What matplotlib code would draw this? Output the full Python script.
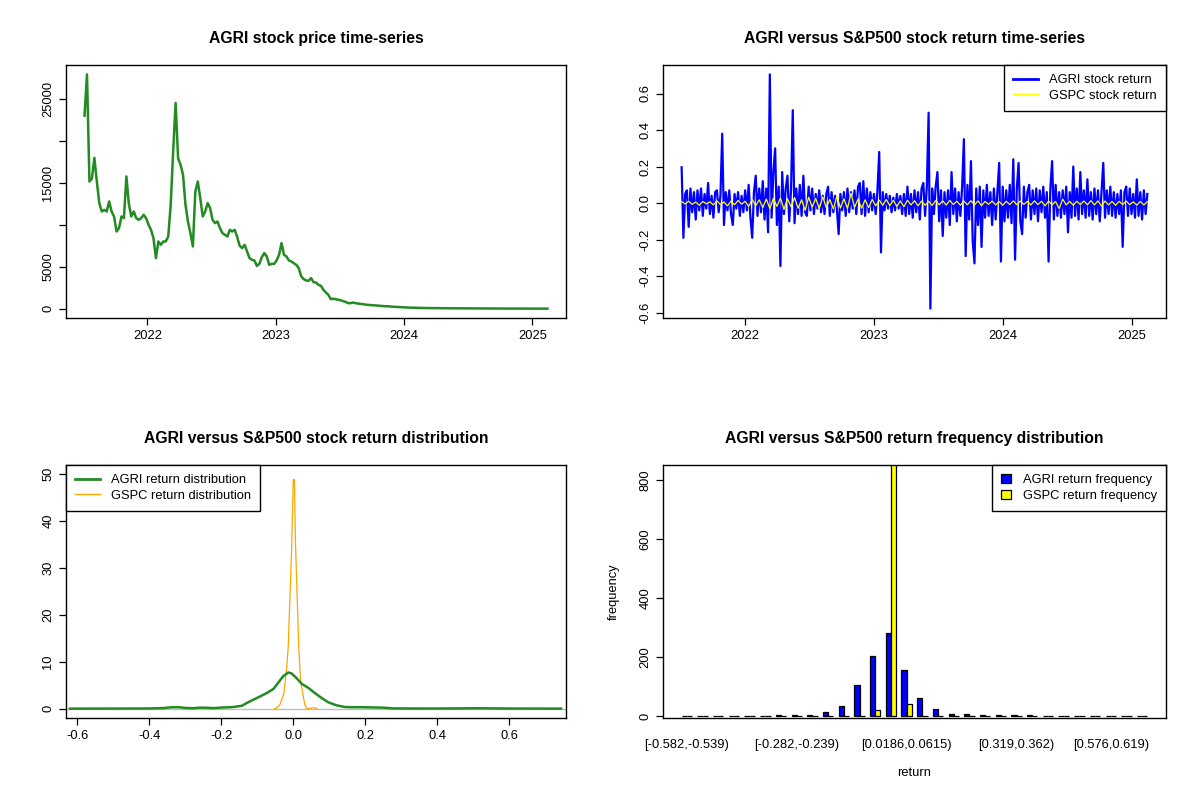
import numpy as np
import pandas as pd
import matplotlib
matplotlib.use('Agg')
import matplotlib.pyplot as plt
import matplotlib.dates as mdates
from matplotlib.patches import Patch
from matplotlib.lines import Line2D

plt.rcParams['font.family'] = ['Liberation Sans', 'DejaVu Sans']

# ---------------- data ----------------
series_start = '2021-07-06'
series_end = '2025-02-13'

# AGRI weekly closing price
agri_price = [
    22970, 27900, 15150, 15500, 17970, 15150, 12580, 11580, 11780, 11580,
    12770, 11580, 10990, 9200, 9600, 10990, 10790, 15750, 12500, 10990,
    11580, 10790, 10590, 10790, 11190, 10790, 10000, 9400, 8410, 6030,
    8010, 7620, 8010, 8010, 8610, 12380, 18760, 24500, 17900, 17140,
    15940, 12380, 10390, 9010, 7420, 13960, 15150, 13170, 10990, 11580,
    12580, 11980, 10590, 10190, 10390, 9600, 9010, 8810, 8600, 9400,
    9200, 9400, 8530, 7500, 7220, 7620, 6820, 6030, 5830, 5750,
    5110, 5350, 6150, 6630, 6230, 5230, 5350, 5350, 5750, 6430,
    7820, 6430, 6230, 5750, 5630, 5430, 5230, 4840, 3850, 3530,
    3370, 3330, 3650, 3170, 3130, 2850, 2740, 2260, 1950, 1670,
    1150, 1190, 1150, 1070, 1030, 910, 830, 670, 670, 750,
    670, 630, 590, 550,
    500, 470, 450, 430, 400, 380, 360,
    330, 300, 310, 280, 250, 240, 220, 200,
    180, 160, 150, 140, 130, 120, 110,
    100, 96, 92, 88, 85, 80, 78, 75, 72, 70,
    68, 65, 62, 60, 58, 55, 53, 50, 48, 46,
    45, 44, 42, 40, 39, 38, 37, 36, 35, 34,
    33, 32, 31, 30, 30, 29, 28, 28, 27, 26,
    26, 25, 25, 24, 24, 23, 23, 22, 22, 21,
    21, 20, 20,
]

agri_return = [
    0.196, -0.19, 0.05, 0.07, -0.13, 0.08, -0.05, 0.06, -0.09, 0.07,
    -0.04, 0.08, -0.07, 0.05, -0.03, 0.11, -0.06, 0.04, -0.08, 0.06,
    0.07, -0.05, 0.04, 0.38, -0.12, 0.06, -0.04, 0.07, -0.06, -0.12,
    0.05, -0.03, 0.06, -0.07, 0.04, -0.05, 0.07, -0.04, 0.10, -0.08,
    -0.19, 0.06, 0.15, -0.07, 0.08, -0.05, 0.12, -0.09, 0.08, -0.16,
    0.705, -0.08, 0.17, 0.30, -0.12, 0.09, -0.345, 0.17, -0.06, 0.08,
    0.15, -0.10, 0.07, 0.509, -0.11, 0.08, -0.06, 0.10, -0.07, 0.15,
    -0.05, -0.07, 0.09, -0.04, 0.08, -0.06, 0.05, -0.03, 0.07, -0.05,
    0.04, -0.06, 0.05, 0.09, -0.07, 0.06, -0.05, 0.04, -0.03, -0.17,
    0.05, -0.04, 0.06, -0.07, 0.08, -0.05, 0.06, -0.03, 0.07, -0.06,
    0.09, 0.11, -0.06, 0.12, -0.07, 0.08, -0.05, 0.06, -0.04, 0.05,
    -0.06, 0.07, 0.28, -0.27, 0.06, -0.04, 0.05, -0.03, 0.04, -0.05,
    0.03, -0.04, 0.05, -0.03, 0.04, -0.06, 0.05, -0.07, 0.09, -0.06,
    0.05, -0.08, 0.07, -0.05, 0.06, -0.09, 0.08, 0.11, -0.07, 0.09,
    0.495, -0.578, 0.08, -0.06, 0.09, 0.17, -0.10, 0.07, -0.18, 0.06,
    -0.08, 0.07, -0.12, 0.17, -0.06, 0.08, -0.10, 0.06, -0.07, 0.09,
    0.35, -0.29, 0.10, -0.09, 0.23, -0.21, -0.33, 0.08, -0.12, 0.09,
    -0.24, 0.07, -0.08, 0.10, -0.07, 0.06, -0.12, 0.08, -0.09, 0.07,
    0.22, -0.32, 0.09, -0.10, 0.07, -0.08, 0.10, -0.11, 0.24, -0.31,
    0.08, 0.22, -0.10, -0.17, 0.09, -0.08, 0.06, 0.10, -0.09, 0.07,
    -0.06, 0.08, -0.10, 0.07, -0.05, 0.09, -0.08, 0.06, -0.32, 0.08,
    0.23, -0.09, 0.10, -0.07, 0.06, -0.08, 0.07, -0.06, 0.09, -0.16,
    0.06, -0.08, 0.20, -0.07, 0.08, -0.09, 0.17, -0.06, 0.07, -0.08,
    0.13, -0.07, 0.06, -0.09, 0.08, -0.06, 0.07, -0.10, 0.06, 0.22,
    -0.08, 0.07, -0.06, 0.09, -0.07, 0.06, -0.08, 0.05, -0.06, 0.07,
    -0.24, 0.06, 0.09, -0.07, 0.08, -0.06, 0.05, -0.08, 0.13, -0.07,
    0.06, -0.09, 0.07, -0.06, 0.05,
]

# S&P500 (GSPC) returns (sampled every ~10 days)
gspc_return = [
    0.008, -0.005, 0.010, -0.007, 0.006, -0.012, 0.009, -0.004, 0.007, -0.010,
    0.012, -0.008, 0.006, -0.015, 0.011, -0.009, 0.014, -0.006, 0.010, -0.018,
    0.020, -0.015, 0.018, -0.025, 0.022, -0.030, 0.025, -0.018, 0.028, -0.035,
    0.024, -0.020, 0.030, -0.028, 0.018, -0.040, 0.032, -0.022, 0.026, -0.030,
    0.034, -0.025, 0.020, -0.032, 0.038, -0.027, 0.024, -0.030, 0.054, -0.024,
    0.022, -0.028, 0.018, -0.025, 0.020, -0.015, 0.016, -0.012, 0.020, -0.014,
    0.015, -0.018, 0.012, -0.020, 0.016, -0.010, 0.013, -0.015, 0.011, -0.012,
    0.010, -0.013, 0.014, -0.009, 0.012, -0.011, 0.015, -0.008, 0.010, -0.012,
    0.011, -0.009, 0.013, -0.010, 0.012, -0.014, 0.009, -0.007, 0.011, -0.010,
    0.008, -0.012, 0.010, -0.008, 0.012, -0.009, 0.011, -0.007, 0.009, -0.010,
    0.012, -0.008, 0.010, -0.015, 0.011, -0.009, 0.008, -0.030, 0.022, -0.010,
    0.009, -0.012, 0.010, -0.008, 0.011, -0.009, 0.013, -0.010, 0.012, -0.016,
    0.011, -0.010, 0.009, -0.012, 0.010, -0.008, 0.011, -0.009, 0.007, -0.011,
    0.009, -0.010, 0.008,
]

# kernel density estimates
agri_dens_x = [-0.62, -0.50, -0.40, -0.36, -0.34, -0.32, -0.30, -0.28, -0.26, -0.24,
               -0.22, -0.20, -0.18, -0.166, -0.143, -0.129, -0.111, -0.092, -0.074, -0.055,
               -0.042, -0.028, -0.014, -0.005, 0.009, 0.023, 0.042, 0.060, 0.078, 0.097,
               0.120, 0.143, 0.16, 0.185, 0.22, 0.25, 0.277, 0.32, 0.40, 0.48,
               0.52, 0.60, 0.743]
agri_dens_y = [0.0, 0.01, 0.03, 0.12, 0.28, 0.30, 0.15, 0.08, 0.20, 0.18,
               0.10, 0.22, 0.28, 0.35, 0.6, 1.2, 1.9, 2.6, 3.3, 4.2,
               5.5, 6.9, 7.7, 7.5, 6.5, 5.3, 4.4, 3.3, 2.3, 1.35,
               0.7, 0.35, 0.3, 0.3, 0.25, 0.2, 0.05, 0.03, 0.02, 0.06,
               0.08, 0.02, 0.0]
gspc_dens_x = [-0.052, -0.048, -0.037, -0.026, -0.018, -0.014, -0.009, -0.005, 0.0, 0.003,
               0.006, 0.011, 0.015, 0.020, 0.026, 0.032, 0.037, 0.045, 0.052, 0.056,
               0.060, 0.066]
gspc_dens_y = [0.0, 0.05, 0.85, 3.3, 9.0, 13.3, 24.7, 33.2, 48.8, 48.8,
               35.3, 23.2, 13.3, 6.2, 3.3, 0.85, 0.05, 0.0, 0.15, 0.2,
               0.15, 0.0]

# return frequency histogram
bin_labels = [
    "[-0.582,-0.539)", "[-0.539,-0.496)", "[-0.496,-0.453)", "[-0.453,-0.41)",
    "[-0.41,-0.368)", "[-0.368,-0.325)", "[-0.325,-0.282)", "[-0.282,-0.239)",
    "[-0.239,-0.196)", "[-0.196,-0.153)", "[-0.153,-0.11)", "[-0.11,-0.0672)",
    "[-0.0672,-0.0243)", "[-0.0243,0.0186)", "[0.0186,0.0615)", "[0.0615,0.104)",
    "[0.104,0.147)", "[0.147,0.19)", "[0.19,0.233)", "[0.233,0.276)",
    "[0.276,0.319)", "[0.319,0.362)", "[0.362,0.405)", "[0.405,0.448)",
    "[0.448,0.491)", "[0.491,0.533)", "[0.533,0.576)", "[0.576,0.619)",
    "[0.619,0.662)", "[0.662,0.705]",
]
agri_freq = [1, 0, 0, 0, 0, 2, 4, 3, 4, 15,
             35, 106, 204, 282, 157, 62, 23, 9, 9, 4,
             4, 4, 4, 0, 0, 2, 0, 0, 0, 1]
gspc_freq = [0, 0, 0, 0, 0, 0, 0, 0, 0, 0,
             0, 0, 20, 875, 40, 0, 0, 0, 0, 0,
             0, 0, 0, 0, 0, 0, 0, 0, 0, 0]
shown_bin_labels = [0, 7, 14, 21, 27]

# ---------------- figure ----------------
W, H = 1200, 800
fig = plt.figure(figsize=(12, 8), dpi=100)


def axbox(x0, y0, x1, y1):
    return fig.add_axes([x0 / W, 1 - y1 / H, (x1 - x0) / W, (y1 - y0) / H])


TICK_FS = 9.3
TITLE_FS = 11.3


def style(ax):
    for s in ax.spines.values():
        s.set_linewidth(1.0)
        s.set_color('black')
    ax.tick_params(direction='out', length=5, width=0.9, labelsize=TICK_FS,
                   colors='black', pad=3.5)


def rot_y(ax):
    for lab in ax.get_yticklabels():
        lab.set_rotation(90)
        lab.set_va('center')


def legend(ax, handles, labels, loc, hl=1.9):
    lg = ax.legend(handles, labels, loc=loc, borderaxespad=0, fancybox=False,
                   edgecolor='black', framealpha=1, fontsize=TICK_FS,
                   handlelength=hl, handletextpad=0.9, borderpad=0.7,
                   labelspacing=0.3)
    lg.get_frame().set_linewidth(1.0)
    return lg


ax1 = axbox(66, 65, 566, 318)
ax2 = axbox(663, 65, 1166, 318)
ax3 = axbox(66, 465, 566, 718)
ax4 = axbox(663, 465, 1166, 718)

# --- price time series ---
price_dates = pd.date_range(series_start, series_end, periods=len(agri_price))
ax1.plot(price_dates, agri_price, color='forestgreen', lw=1.8)
ax1.margins(x=0.04, y=0.04)
ax1.xaxis.set_major_locator(mdates.YearLocator())
ax1.xaxis.set_major_formatter(mdates.DateFormatter('%Y'))
ax1.set_yticks([0, 5000, 10000, 15000, 20000, 25000])
ax1.set_yticklabels(['0', '5000', '', '15000', '', '25000'])
style(ax1)
rot_y(ax1)
ax1.set_title('AGRI stock price time-series', fontsize=TITLE_FS,
              fontweight='bold', pad=16)

# --- return time series ---
ret_dates = pd.date_range(series_start, series_end, periods=len(agri_return))
gspc_dates = pd.date_range(series_start, series_end, periods=len(gspc_return))
ax2.plot(ret_dates, agri_return, color='blue', lw=1.6)
ax2.plot(gspc_dates, gspc_return, color='yellow', lw=0.9)
ax2.margins(x=0.04, y=0.04)
ax2.xaxis.set_major_locator(mdates.YearLocator())
ax2.xaxis.set_major_formatter(mdates.DateFormatter('%Y'))
ax2.set_yticks([-0.6, -0.4, -0.2, 0.0, 0.2, 0.4, 0.6])
ax2.set_yticklabels(['-0.6', '-0.4', '-0.2', '0.0', '0.2', '0.4', '0.6'])
style(ax2)
rot_y(ax2)
ax2.set_title('AGRI versus S&P500 stock return time-series', fontsize=TITLE_FS,
              fontweight='bold', pad=16)
legend(ax2, [Line2D([], [], color='blue', lw=2), Line2D([], [], color='yellow', lw=1)],
       ['AGRI stock return', 'GSPC stock return'], 'upper right')

# --- density ---
ax3.axhline(0, color='#bebebe', lw=1.0, zorder=1)
ax3.plot(agri_dens_x, agri_dens_y, color='forestgreen', lw=1.8, zorder=3)
ax3.plot(gspc_dens_x, gspc_dens_y, color='orange', lw=0.9, zorder=2)
ax3.set_xlim(-0.631, 0.757)
ax3.set_ylim(-2.0, 51.9)
ax3.set_xticks([-0.6, -0.4, -0.2, 0.0, 0.2, 0.4, 0.6])
ax3.set_xticklabels(['-0.6', '-0.4', '-0.2', '0.0', '0.2', '0.4', '0.6'])
ax3.set_yticks([0, 10, 20, 30, 40, 50])
style(ax3)
rot_y(ax3)
ax3.set_title('AGRI versus S&P500 stock return distribution', fontsize=TITLE_FS,
              fontweight='bold', pad=16)
legend(ax3, [Line2D([], [], color='forestgreen', lw=2), Line2D([], [], color='orange', lw=1)],
       ['AGRI return distribution', 'GSPC return distribution'], 'upper left')

# --- frequency histogram ---
groups = np.arange(len(bin_labels))
ax4.bar(groups * 3 + 1.5, agri_freq, width=1.0, color='blue', edgecolor='black', lw=0.9)
ax4.bar(groups * 3 + 2.5, gspc_freq, width=1.0, color='yellow', edgecolor='black', lw=0.9)
ax4.set_xlim(1 - 0.04 * 89, 90 + 0.04 * 89)
ax4.set_ylim(-6, 852)
ax4.set_xticks(groups * 3 + 2)
ax4.set_xticklabels([lab if i in shown_bin_labels else '' for i, lab in enumerate(bin_labels)])
ax4.set_yticks([0, 200, 400, 600, 800])
style(ax4)
rot_y(ax4)
ax4.tick_params(axis='x', length=0, pad=15)
ax4.set_xlabel('return', fontsize=TICK_FS, labelpad=12)
ax4.set_ylabel('frequency', fontsize=TICK_FS, labelpad=14)
ax4.set_title('AGRI versus S&P500 return frequency distribution', fontsize=TITLE_FS,
              fontweight='bold', pad=16)
legend(ax4, [Patch(facecolor='blue', edgecolor='black', lw=0.9),
             Patch(facecolor='yellow', edgecolor='black', lw=0.9)],
       ['AGRI return frequency', 'GSPC return frequency'], 'upper right', hl=0.8)

fig.savefig('out.png', dpi=100)
